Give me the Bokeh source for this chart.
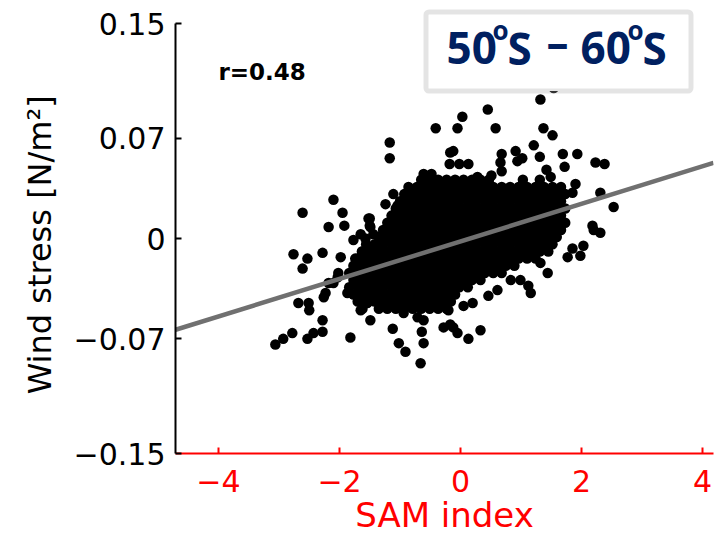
from bokeh.plotting import figure
from bokeh.models import Range1d, FixedTicker, Label, BoxAnnotation
from bokeh.embed import file_html
from bokeh.resources import INLINE

# ---------------- data ----------------
x_ticks = [-4, -2, 0, 2, 4]
x_tick_labels = ["\u22124", "\u22122", "0", "2", "4"]
y_ticks = [-0.15, -0.07, 0, 0.07, 0.15]
y_tick_labels = ["\u22120.15", "\u22120.07", "0", "0.07", "0.15"]

x_title = "SAM index"
y_title = "Wind stress [N/m\u00b2]"
r_text = "r=0.48"
fit_slope = 0.0131
fit_intercept = -0.002

# scattered points outside the dense core (SAM index, wind stress)
outer_sam = [1.54, 1.32, 0.45, 0.03, -0.41, -0.05, 0.58, 1.37, 1.52, -1.17, -1.17, 1.21, 0.91,
             1.93, 1.69, 1.72, 2.23, 2.38, 1.31, 0.68, -0.12, -0.18, -0.02, 0.13, -0.48, -0.61,
             2.31, 2.53, 1.02, 0.94, 0.66, 0.68, 1.42, 0.51, 0.28, 1.49, 1.90, 1.85, -0.17,
             -0.55, -1.11, -1.24, -1.04, -1.52, -1.44, -1.50, -1.50,
             -2.10, -2.61, -1.95, -2.18, -1.92, -1.77, -1.65, -1.49, -1.57, -1.62,
             -2.76, -2.53, -2.28, -1.98, -1.74, -2.61, -2.02, -2.18, -2.23, -2.26, -2.68, -2.51,
             -2.50, -2.28, -2.28, -2.78, -2.93, -3.06, -2.53, -2.43, -1.82, -1.49, -1.62, -1.54,
             -1.12, -1.02, -0.91, -0.66, -0.61, -0.64, -2.10, -2.03, -1.87, -1.65, -0.94, -0.71,
             -0.61, -0.28, -0.12, -0.05, -0.17, 0.13, 0.33, -0.20, 0.05, 0.20, 0.46, 0.61, 0.83,
             0.99, 1.16, 1.12, 1.32, 1.44, 1.77, 1.85, 2.03, 1.98, 2.18, 2.31, 2.20]
outer_stress = [0.105, 0.097, 0.090, 0.085, 0.077, 0.077, 0.077, 0.077, 0.072, 0.067, 0.056, 0.065, 0.061,
                0.059, 0.059, 0.050, 0.053, 0.052, 0.057, 0.059, 0.061, 0.052, 0.052, 0.052, 0.045, 0.045,
                0.032, 0.022, 0.056, 0.054, 0.053, 0.047, 0.048, 0.044, 0.043, 0.043, 0.038, 0.032, 0.060,
                0.037, 0.031, 0.024, 0.023, 0.014, 0.003, 0.014, 0.009,
                0.027, 0.018, 0.018, 0.008, 0.009, -0.001, 0.003, 0.008, 0.000, -0.009,
                -0.011, -0.014, -0.010, -0.013, -0.014, -0.021, -0.024, -0.031, -0.038, -0.041, -0.045, -0.045,
                -0.050, -0.057, -0.065, -0.066, -0.070, -0.074, -0.070, -0.066, -0.069, -0.057, -0.049, -0.045,
                -0.063, -0.073, -0.079, -0.087, -0.073, -0.065, -0.031, -0.027, -0.038, -0.050, -0.052, -0.055,
                -0.057, -0.062, -0.062, -0.066, -0.060, -0.070, -0.064, -0.050, -0.047, -0.045, -0.040, -0.036, -0.029,
                -0.029, -0.038, -0.033, -0.017, -0.024, -0.013, -0.007, -0.005, -0.012, 0.009, 0.004, 0.006]

# dense core of the cloud, read row by row (wind stress of the row, SAM values in it)
core_row_stress = [0.041, 0.036, 0.031, 0.026, 0.021, 0.016, 0.011, 0.006, 0.001, -0.004,
                   -0.009, -0.014, -0.019, -0.024, -0.029, -0.034, -0.039, -0.044, -0.049]
core_row_sam = [
    [-0.65, -0.51, -0.37, -0.23, -0.09, 0.05, 0.19, 0.33, 0.47, 1.03, 1.31],
    [-0.86, -0.72, -0.58, -0.44, -0.30, -0.16, -0.02, 0.12, 0.26, 0.40, 0.54, 0.68, 0.82, 0.96, 1.10, 1.24, 1.38, 1.52, 1.66],
    [-0.93, -0.79, -0.65, -0.51, -0.37, -0.23, -0.09, 0.05, 0.19, 0.33, 0.47, 0.61, 0.75, 0.89, 1.03, 1.17, 1.31, 1.45, 1.59, 1.73],
    [-1.00, -0.86, -0.72, -0.58, -0.44, -0.30, -0.16, -0.02, 0.12, 0.26, 0.40, 0.54, 0.68, 0.82, 0.96, 1.10, 1.24, 1.38, 1.52, 1.66],
    [-1.07, -0.93, -0.79, -0.65, -0.51, -0.37, -0.23, -0.09, 0.05, 0.19, 0.33, 0.47, 0.61, 0.75, 0.89, 1.03, 1.17, 1.31, 1.45, 1.59, 1.73],
    [-1.14, -1.00, -0.86, -0.72, -0.58, -0.44, -0.30, -0.16, -0.02, 0.12, 0.26, 0.40, 0.54, 0.68, 0.82, 0.96, 1.10, 1.24, 1.38, 1.52, 1.66],
    [-1.21, -1.07, -0.93, -0.79, -0.65, -0.51, -0.37, -0.23, -0.09, 0.05, 0.19, 0.33, 0.47, 0.61, 0.75, 0.89, 1.03, 1.17, 1.31, 1.45, 1.59, 1.73],
    [-1.28, -1.14, -1.00, -0.86, -0.72, -0.58, -0.44, -0.30, -0.16, -0.02, 0.12, 0.26, 0.40, 0.54, 0.68, 0.82, 0.96, 1.10, 1.24, 1.38, 1.52, 1.66],
    [-1.35, -1.21, -1.07, -0.93, -0.79, -0.65, -0.51, -0.37, -0.23, -0.09, 0.05, 0.19, 0.33, 0.47, 0.61, 0.75, 0.89, 1.03, 1.17, 1.31, 1.45, 1.59],
    [-1.56, -1.42, -1.28, -1.14, -1.00, -0.86, -0.72, -0.58, -0.44, -0.30, -0.16, -0.02, 0.12, 0.26, 0.40, 0.54, 0.68, 0.82, 0.96, 1.10, 1.24, 1.38, 1.52],
    [-1.63, -1.49, -1.35, -1.21, -1.07, -0.93, -0.79, -0.65, -0.51, -0.37, -0.23, -0.09, 0.05, 0.19, 0.33, 0.47, 0.61, 0.75, 0.89, 1.03, 1.17, 1.31, 1.45],
    [-1.70, -1.56, -1.42, -1.28, -1.14, -1.00, -0.86, -0.72, -0.58, -0.44, -0.30, -0.16, -0.02, 0.12, 0.26, 0.40, 0.54, 0.68, 0.82, 0.96, 1.10, 1.24],
    [-1.77, -1.63, -1.49, -1.35, -1.21, -1.07, -0.93, -0.79, -0.65, -0.51, -0.37, -0.23, -0.09, 0.05, 0.19, 0.33, 0.47, 0.61, 0.75, 0.89],
    [-1.84, -1.70, -1.56, -1.42, -1.28, -1.14, -1.00, -0.86, -0.72, -0.58, -0.44, -0.30, -0.16, -0.02, 0.12, 0.26, 0.40, 0.54, 0.68],
    [-1.77, -1.63, -1.49, -1.35, -1.21, -1.07, -0.93, -0.79, -0.65, -0.51, -0.37, -0.23, -0.09, 0.05, 0.19, 0.33],
    [-1.84, -1.70, -1.56, -1.42, -1.28, -1.14, -1.00, -0.86, -0.72, -0.58, -0.44, -0.30, -0.16, -0.02, 0.12],
    [-1.77, -1.63, -1.49, -1.35, -1.21, -1.07, -0.93, -0.79, -0.65, -0.51, -0.37, -0.23, -0.09],
    [-1.70, -1.56, -1.42, -1.28, -1.14, -1.00, -0.86, -0.72, -0.58, -0.44, -0.30, -0.16],
    [-1.35, -1.21, -1.07, -0.93, -0.79, -0.65, -0.51, -0.37, -0.23],
]

sam = list(outer_sam)
stress = list(outer_stress)
for yv, row in zip(core_row_stress, core_row_sam):
    for xv in row:
        sam.append(xv)
        stress.append(yv)

# ---------------- figure ----------------
FONT = "DejaVu Sans"
RED = "#ff0000"

x_lo, x_hi = -4.71, 4.18
p = figure(width=716, height=538, title=None,
           x_range=Range1d(x_lo, x_hi), y_range=Range1d(-0.15, 0.1626),
           output_backend="svg", toolbar_location=None,
           min_border_left=175, min_border_right=3, min_border_top=5, min_border_bottom=85)
p.grid.visible = False
p.outline_line_color = None
p.background_fill_color = "white"
p.border_fill_color = "white"

xa = p.xaxis[0]
xa.ticker = FixedTicker(ticks=x_ticks)
xa.major_label_overrides = {t: l for t, l in zip(x_ticks, x_tick_labels)}
xa.axis_line_color = RED
xa.axis_line_width = 2
xa.major_tick_line_color = RED
xa.major_tick_line_width = 2
xa.major_tick_in = 6
xa.major_tick_out = 0
xa.minor_tick_line_color = None
xa.major_label_text_color = RED
xa.major_label_text_font = FONT
xa.major_label_text_font_size = "30px"
xa.major_label_standoff = 16
xa.axis_label = x_title
xa.axis_label_text_color = RED
xa.axis_label_text_font = FONT
xa.axis_label_text_font_size = "34px"
xa.axis_label_text_font_style = "normal"
xa.axis_label_standoff = 0

ya = p.yaxis[0]
ya.ticker = FixedTicker(ticks=y_ticks)
ya.major_label_overrides = {t: l for t, l in zip(y_ticks, y_tick_labels)}
ya.bounds = (-0.15, 0.15)
ya.axis_line_color = "black"
ya.axis_line_width = 2
ya.major_tick_line_color = "black"
ya.major_tick_line_width = 2
ya.major_tick_in = 6
ya.major_tick_out = 0
ya.minor_tick_line_color = None
ya.major_label_text_color = "black"
ya.major_label_text_font = FONT
ya.major_label_text_font_size = "30px"
ya.major_label_standoff = 10
# trailing no-break spaces shift the centred title down to the centre of the bounded axis
ya.axis_label = y_title + "\u00a0\u00a0\u00a0"
ya.axis_label_text_color = "black"
ya.axis_label_text_font = FONT
ya.axis_label_text_font_size = "32px"
ya.axis_label_text_font_style = "normal"
ya.axis_label_standoff = 12

p.scatter(sam, stress, size=10.5, marker="circle", fill_color="black", line_color="black", line_width=0)

p.line([x_lo, x_hi], [fit_intercept + fit_slope * x_lo, fit_intercept + fit_slope * x_hi],
       line_color="#707070", line_width=4.5)

p.add_layout(Label(x=43, y=382, x_units="screen", y_units="screen", text=r_text,
                   text_font=FONT, text_font_style="bold", text_font_size="23px",
                   text_color="black", text_baseline="alphabetic"))

# title box
p.add_layout(BoxAnnotation(left=250.5, right=515.5, top=441.5, bottom=362.5,
                           left_units="screen", right_units="screen", top_units="screen", bottom_units="screen",
                           fill_color="white", fill_alpha=1.0, line_color="#a6a6a6", line_width=5,
                           border_radius=3))
NAVY = "#002060"
TF = "Open Sans"
pieces = [("50", 271, 406, "44px"), ("o", 317, 424, "26px"), ("S", 332, 406, "44px"),
          ("\u2013", 371, 412, "44px"), ("60", 405, 406, "44px"), ("o", 452, 424, "26px"),
          ("S", 467, 406, "44px")]
for txt, sx, sy, fs in pieces:
    p.add_layout(Label(x=sx, y=sy, x_units="screen", y_units="screen", text=txt,
                       text_font=TF, text_font_style="bold", text_font_size=fs,
                       text_color=NAVY, text_baseline="alphabetic"))

open("out.html", "w").write(file_html(p, INLINE))
